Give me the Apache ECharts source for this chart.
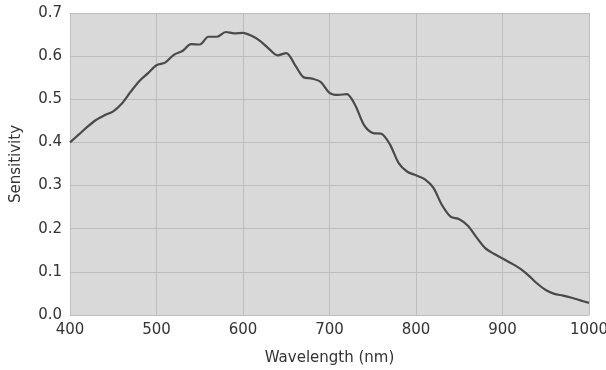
<!DOCTYPE html>
<html>
<head>
<meta charset="utf-8">
<script src="https://cdn.jsdelivr.net/npm/echarts@6/dist/echarts.min.js"></script>
<style>
html,body{margin:0;padding:0;background:#fff;}
#chart{width:606px;height:370px;}
</style>
</head>
<body>
<div id="chart"></div>
<script>
const wavelengths = [400,410,420,430,440,450,460,470,480,490,500,510,520,530,540,550,560,570,580,590,600,610,620,630,640,650,660,670,680,690,700,710,720,730,740,750,760,770,780,790,800,810,820,830,840,850,860,870,880,890,900,910,920,930,940,950,960,970,980,990,1000];
const sensitivity = [0.400,0.418,0.436,0.452,0.463,0.472,0.490,0.517,0.542,0.560,0.579,0.585,0.603,0.612,0.628,0.627,0.645,0.645,0.656,0.653,0.654,0.647,0.635,0.617,0.602,0.607,0.580,0.551,0.548,0.540,0.515,0.510,0.512,0.485,0.440,0.422,0.420,0.395,0.352,0.332,0.324,0.315,0.295,0.255,0.228,0.222,0.207,0.180,0.155,0.142,0.131,0.120,0.108,0.092,0.073,0.058,0.049,0.045,0.040,0.034,0.028];
const xTicks = [400,500,600,700,800,900,1000];
const yTicks = [0.0,0.1,0.2,0.3,0.4,0.5,0.6,0.7];

const chart = echarts.init(document.getElementById('chart'), null, {renderer:'canvas'});
const font = 'DejaVu Sans';
chart.setOption({
  animation:false,
  backgroundColor:'#ffffff',
  grid:{left:70,right:17,top:13,bottom:55,show:true,backgroundColor:'#d9d9d9',borderWidth:0,outerBoundsMode:'none',containLabel:false},
  xAxis:{
    type:'value',min:xTicks[0],max:xTicks[xTicks.length-1],interval:100,
    name:'Wavelength (nm)',nameLocation:'middle',nameGap:36,
    nameTextStyle:{fontFamily:font,fontSize:15,color:'#333'},
    axisLine:{show:false},axisTick:{show:false},
    axisLabel:{fontFamily:font,fontSize:15,color:'#333',margin:8,formatter:v=>String(v)},
    splitLine:{show:true,lineStyle:{color:'#bdbdbd',width:1}}
  },
  yAxis:{
    type:'value',min:yTicks[0],max:yTicks[yTicks.length-1],interval:0.1,
    name:'Sensitivity',nameLocation:'middle',nameGap:46,
    nameTextStyle:{fontFamily:font,fontSize:15,color:'#333'},
    axisLine:{show:false},axisTick:{show:false},
    axisLabel:{fontFamily:font,fontSize:15,color:'#333',margin:8,formatter:v=>v.toFixed(1)},
    splitLine:{show:true,lineStyle:{color:'#bdbdbd',width:1}}
  },
  series:[{
    type:'line',
    data:wavelengths.map((w,i)=>[w,sensitivity[i]]),
    showSymbol:false,smooth:0.3,
    lineStyle:{color:'#4a4a4a',width:2.2}
  }]
});
</script>
</body>
</html>
